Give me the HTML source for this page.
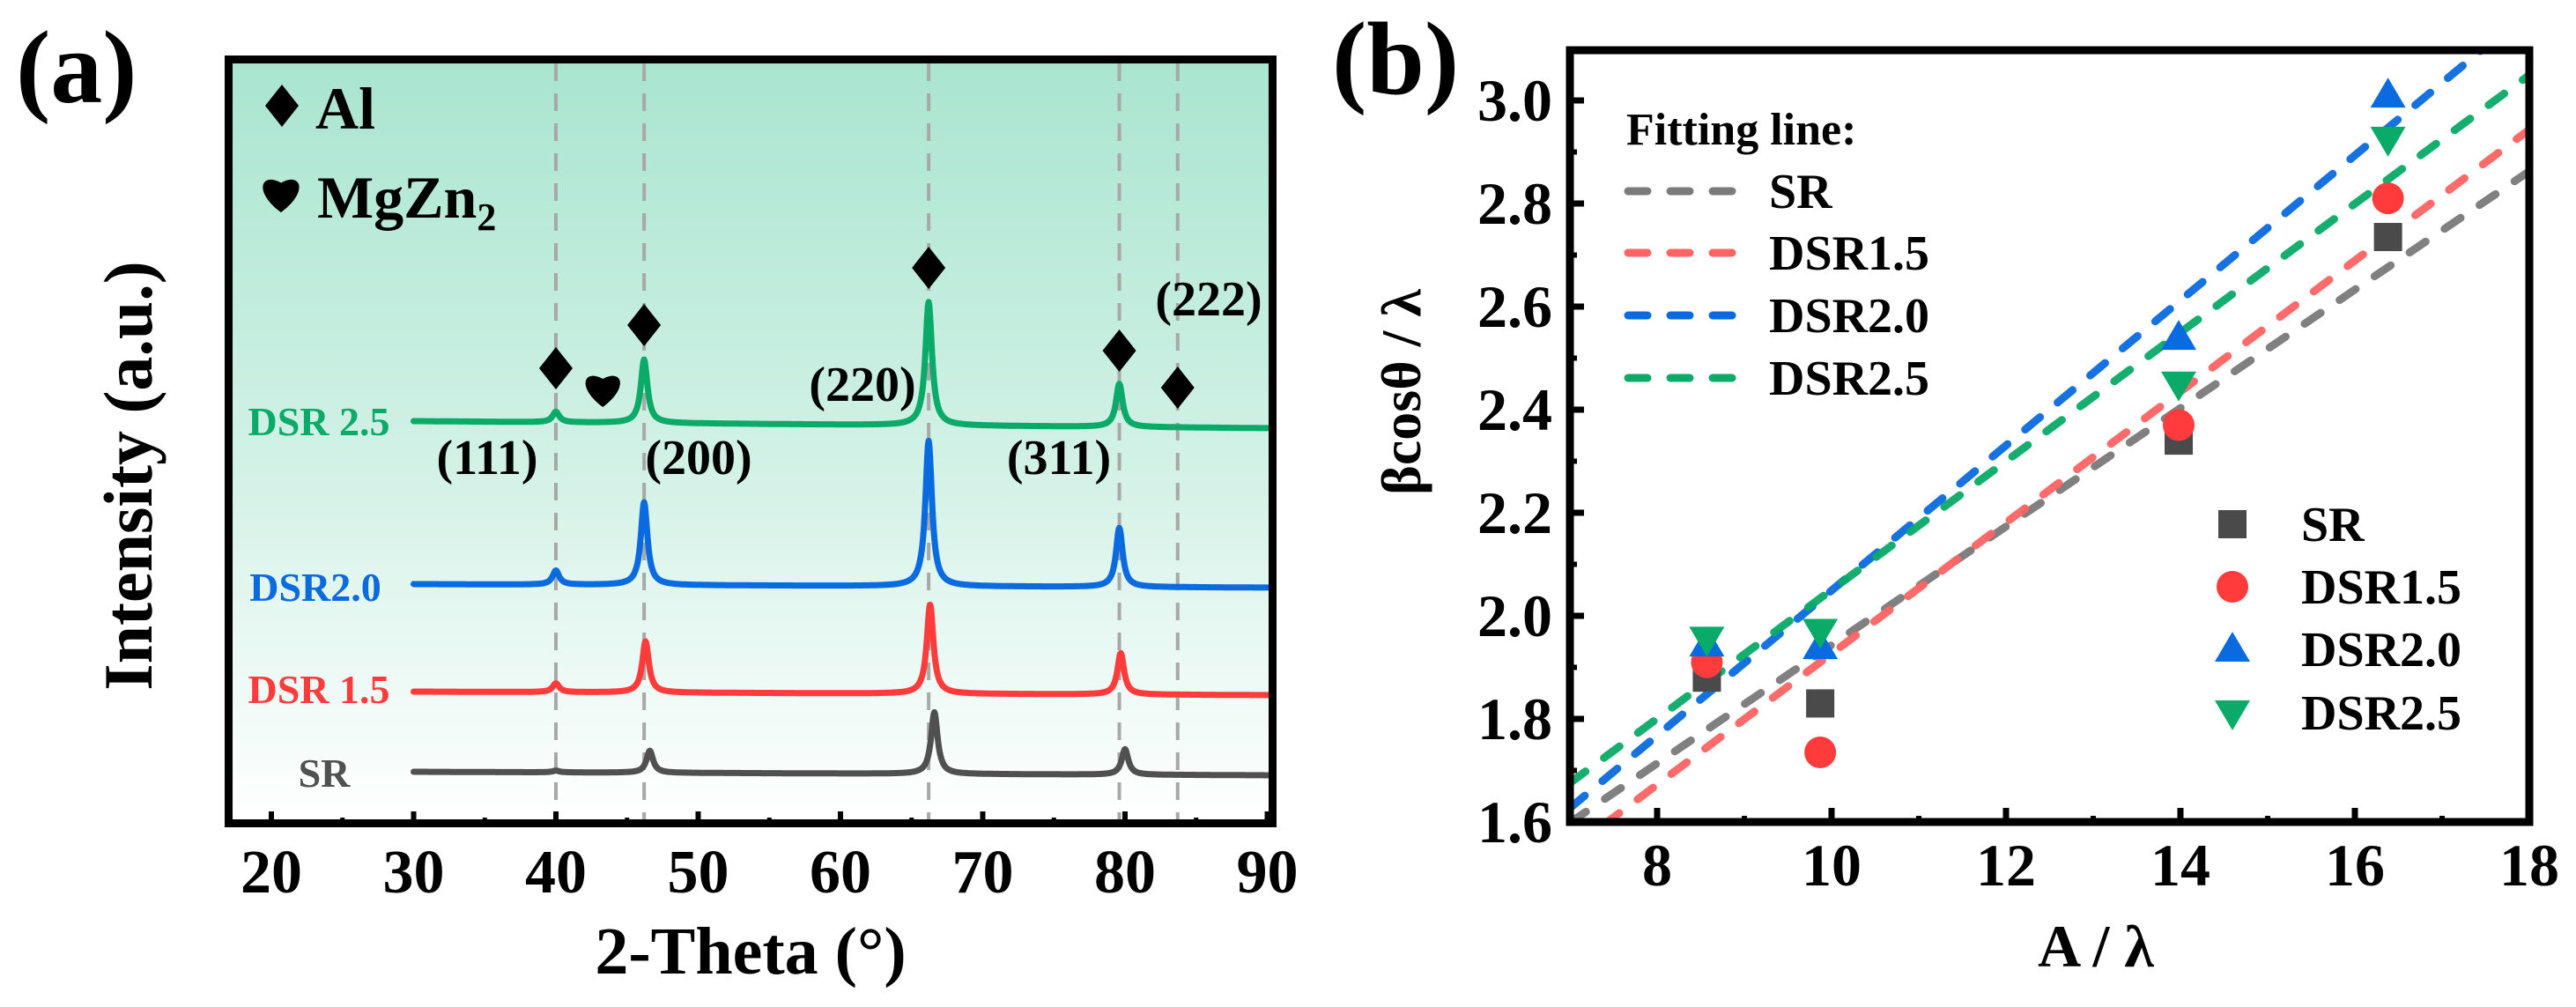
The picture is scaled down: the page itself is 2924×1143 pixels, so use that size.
<!DOCTYPE html>
<html><head><meta charset="utf-8"><style>
html,body{margin:0;padding:0;background:#fff;}
svg{display:block;}
svg text{font-family:"Liberation Serif","Noto Serif CJK SC","DejaVu Serif",serif !important;font-weight:bold;}
</style></head><body>
<svg id="fig" width="2924" height="1143" viewBox="0 0 2924 1143" xmlns="http://www.w3.org/2000/svg" font-family="'Liberation Serif', 'Noto Serif CJK SC', 'DejaVu Serif', serif" font-weight="bold">
<defs>
<linearGradient id="bgA" x1="0" y1="0" x2="0" y2="1">
<stop offset="0" stop-color="#a9e5d0"/><stop offset="0.55" stop-color="#d4f2e7"/><stop offset="1" stop-color="#ffffff"/>
</linearGradient>
<clipPath id="clipB"><rect x="1786" y="61" width="1081" height="868"/></clipPath>
</defs>
<g id="panelA"></g>
<g id="panelB"></g>
</svg>
<script>
// ---------- Panel A data ----------
const xrdSeries = ["SR", "DSR 1.5", "DSR2.0", "DSR 2.5"];
const xrdColors = ["#505050", "#ff3b3b", "#0a6ae0", "#0aaa68"];
const peakPositions = [40.0, 46.2, 66.2, 79.6];
const peakHeightsSR = [2, 25, 70, 29];
const peakHeights15 = [10, 58, 101, 47];
const peakHeights20 = [16, 94, 165, 67];
const peakHeights25 = [12, 72, 140, 49];
const seriesOffsets = [64, 155, 277, 462];
const seriesDrift = [-4, -4, -4, -8];
const peakShift = [0.4, 0.1, 0.0, 0.0];
const refLines = [40.0, 46.2, 66.2, 79.6, 83.7];
const xTicksA = [20, 30, 40, 50, 60, 70, 80, 90];

// ---------- Panel B data ----------
const xB = [8.57, 9.87, 13.98, 16.38];
const ySR = [1.88, 1.83, 2.34, 2.735];
const y15 = [1.91, 1.735, 2.37, 2.81];
const y20 = [1.945, 1.94, 2.54, 3.01];
const y25 = [1.955, 1.97, 2.45, 2.925];
const seriesB = ["SR", "DSR1.5", "DSR2.0", "DSR2.5"];
const xTicksB = [8, 10, 12, 14, 16, 18];
const yTicksB = [1.6, 1.8, 2.0, 2.2, 2.4, 2.6, 2.8, 3.0];

const NS = "http://www.w3.org/2000/svg";
const FONT = "'Liberation Serif', 'Noto Serif CJK SC', 'DejaVu Serif', serif";
function mk(tag, attrs, parent, txt) {
  const e = document.createElementNS(NS, tag);
  for (const k in attrs) e.setAttribute(k, attrs[k]);
  if (tag === "text") { e.setAttribute("font-family", FONT); e.setAttribute("font-weight", "bold"); }
  if (txt !== undefined) e.textContent = txt;
  parent.appendChild(e);
  return e;
}

// ===== Panel A =====
const A = document.getElementById("panelA");
const ax = v => 308 + (v - 20) * 16.15;
const ayBase = 940;
const bg = mk("rect", {x: 259, y: 68, width: 1190, height: 867, fill: "url(#bgA)"}, A);


refLines.forEach(v => {
  const l = mk("line", {x1: ax(v), x2: ax(v), y1: 72, y2: 935, stroke: "#a8a8a8", "stroke-width": 4, "stroke-dasharray": "20 14"}, A);
  
  
});
const heightsAll = [peakHeightsSR, peakHeights15, peakHeights20, peakHeights25];
heightsAll.forEach((hs, si) => {
  let d = "";
  for (let t = 30; t <= 90.001; t += 0.05) {
    let I = seriesOffsets[si] + seriesDrift[si] * (t - 30) / 60;
    peakPositions.forEach((p, k) => {
      const c = p + peakShift[si] * (k > 0 ? 1 : 0);
      const w = 0.28;
      I += hs[k] / (1 + ((t - c) / w) ** 2);
    });
    d += (d ? "L" : "M") + ax(t).toFixed(1) + "," + (ayBase - I).toFixed(1);
  }
  const p = mk("path", {d: d, fill: "none", stroke: xrdColors[si], "stroke-width": 7, "stroke-linejoin": "round", "stroke-linecap": "round"}, A);
  
  
});
const labPos = [[368, 893], [362, 798], [358, 682], [362, 494]];
xrdSeries.forEach((s, i) => {
  const t = mk("text", {x: labPos[i][0], y: labPos[i][1], "text-anchor": "middle", "font-size": 46, fill: xrdColors[i]}, A, s);
  
  
});
function diamond(cx, cy) {
  const p = mk("path", {d: `M${cx},${cy-24}L${cx+19},${cy}L${cx},${cy+24}L${cx-19},${cy}Z`, fill: "#000"}, A);
  
  
}
diamond(ax(40), 418); diamond(ax(46.2), 369); diamond(ax(66.2), 304); diamond(ax(79.6), 398); diamond(ax(83.7), 440);
function heart(cx, cy, s) {
  const p = mk("path", {d: `M${cx},${cy+22*s} C${cx-30*s},${cy} ${cx-22*s},${cy-22*s} ${cx},${cy-10*s} C${cx+22*s},${cy-22*s} ${cx+30*s},${cy} ${cx},${cy+22*s}Z`, fill: "#000"}, A);
  
  
}
heart(ax(43.3), 440, 1.0);
diamond(320, 120);
heart(319, 218, 1.05);
const lg1 = mk("text", {x: 358, y: 146, "font-size": 68, fill: "#000"}, A, "Al");


const lg2 = mk("text", {x: 360, y: 247, "font-size": 68, fill: "#000"}, A);


lg2.innerHTML = 'MgZn<tspan font-size="44" dy="14">2</tspan>';
[["(111)", 553, 538], ["(200)", 793, 538], ["(220)", 979, 455], ["(311)", 1202, 538], ["(222)", 1372, 358]].forEach(h => {
  const t = mk("text", {x: h[1], y: h[2], "text-anchor": "middle", "font-size": 56, fill: "#000"}, A, h[0]);
  
  
});
const fA = mk("rect", {x: 259.5, y: 67.5, width: 1185, height: 867, fill: "none", stroke: "#000", "stroke-width": 9}, A);


xTicksA.forEach(v => {
  const l = mk("line", {x1: ax(v), x2: ax(v), y1: 935, y2: 921, stroke: "#000", "stroke-width": 6}, A);
  
  
  const t = mk("text", {x: ax(v), y: 1013, "text-anchor": "middle", "font-size": 70, fill: "#000"}, A, String(v));
  
  
  if (v < 90) {
    const m = mk("line", {x1: ax(v + 5), x2: ax(v + 5), y1: 935, y2: 928, stroke: "#000", "stroke-width": 5}, A);
    
    
  }
});
const xtA = mk("text", {x: 852, y: 1105, "text-anchor": "middle", "font-size": 76, fill: "#000"}, A, "2-Theta (°)");


const ytA = mk("text", {x: 0, y: 0, "text-anchor": "middle", "font-size": 78, fill: "#000", transform: "translate(172,540) rotate(-90)"}, A, "Intensity (a.u.)");


const pa = mk("text", {x: 18, y: 116, "font-size": 118, fill: "#000"}, A, "(a)");



// ===== Panel B =====
const B = document.getElementById("panelB");
const bx = v => 1782 + (v - 7) * 99;
const by = v => 933 - (v - 1.6) * 585;
const ysB = [ySR, y15, y20, y25];
const markColors = ["#4a4a4a", "#ff3b3b", "#0a6ae0", "#0aaa68"];
const lineColors = ["#7a7a7a", "#ff6464", "#0a6ae0", "#0aaa68"];
const clipG = mk("g", {"clip-path": "url(#clipB)"}, B);
ysB.forEach((ys, si) => {
  const n = xB.length;
  const mx = xB.reduce((a, b) => a + b, 0) / n;
  const my = ys.reduce((a, b) => a + b, 0) / n;
  let sxy = 0, sxx = 0;
  for (let i = 0; i < n; i++) { sxy += (xB[i] - mx) * (ys[i] - my); sxx += (xB[i] - mx) ** 2; }
  const k = sxy / sxx, b0 = my - k * mx;
  const l = mk("line", {x1: bx(7), y1: by(b0 + k * 7), x2: bx(18), y2: by(b0 + k * 18), stroke: lineColors[si], "stroke-width": 9, "stroke-dasharray": "22 26", "stroke-linecap": "round", opacity: 0.95}, clipG);
  
  
});
function marker(kind, cx, cy, col, parent) {
  let e;
  if (kind === 0) e = mk("rect", {x: cx - 16, y: cy - 16, width: 32, height: 32, fill: col}, parent);
  else if (kind === 1) e = mk("circle", {cx: cx, cy: cy, r: 18, fill: col}, parent);
  else if (kind === 2) e = mk("path", {d: `M${cx},${cy-20}L${cx+20},${cy+14}L${cx-20},${cy+14}Z`, fill: col}, parent);
  else e = mk("path", {d: `M${cx},${cy+20}L${cx+20},${cy-14}L${cx-20},${cy-14}Z`, fill: col}, parent);
  return e;
}
ysB.forEach((ys, si) => {
  ys.forEach((v, i) => {
    const m = marker(si, bx(xB[i]), by(v), markColors[si], B);
    
    
  });
});
const fl = mk("text", {x: 1846, y: 164, "font-size": 52, fill: "#000"}, B, "Fitting line:");


[217, 287, 358, 429].forEach((y, i) => {
  const l = mk("line", {x1: 1848, x2: 1966, y1: y, y2: y, stroke: lineColors[i], "stroke-width": 9, "stroke-dasharray": "22 26", "stroke-linecap": "round"}, B);
  
  
  const t = mk("text", {x: 2008, y: y + 19, "font-size": 56, fill: "#000"}, B, seriesB[i]);
  
  
});
[595, 666, 737, 809].forEach((y, i) => {
  const m = marker(i, 2534, y, markColors[i], B);
  
  
  const t = mk("text", {x: 2612, y: y + 19, "font-size": 56, fill: "#000"}, B, seriesB[i]);
  
  
});
const fB = mk("rect", {x: 1782, y: 57, width: 1089, height: 876, fill: "none", stroke: "#000", "stroke-width": 9}, B);


xTicksB.forEach(v => {
  const l = mk("line", {x1: bx(v), x2: bx(v), y1: 933, y2: 917, stroke: "#000", "stroke-width": 7}, B);
  
  
  const t = mk("text", {x: bx(v), y: 1005, "text-anchor": "middle", "font-size": 68, fill: "#000"}, B, String(v));
  
  
  if (v < 18) {
    const m = mk("line", {x1: bx(v + 1), x2: bx(v + 1), y1: 933, y2: 926, stroke: "#000", "stroke-width": 6}, B);
    
    
  }
});
yTicksB.forEach(v => {
  const l = mk("line", {x1: 1782, x2: 1798, y1: by(v), y2: by(v), stroke: "#000", "stroke-width": 7}, B);
  
  
  const t = mk("text", {x: 1762, y: by(v) + 23, "text-anchor": "end", "font-size": 68, fill: "#000"}, B, v.toFixed(1));
  
  
  if (v < 3.0) {
    const m = mk("line", {x1: 1782, x2: 1790, y1: by(v + 0.1), y2: by(v + 0.1), stroke: "#000", "stroke-width": 6}, B);
    
    
  }
});
const xtB = mk("text", {x: 2379, y: 1097, "text-anchor": "middle", "font-size": 68, fill: "#000"}, B, "A / λ");


const ytB = mk("text", {x: 0, y: 0, "text-anchor": "middle", "font-size": 64, fill: "#000", transform: "translate(1612,445) rotate(-90)"}, B, "βcosθ / λ");


const pb = mk("text", {x: 1512, y: 106, "font-size": 118, fill: "#000"}, B, "(b)");


</script>
</body></html>
